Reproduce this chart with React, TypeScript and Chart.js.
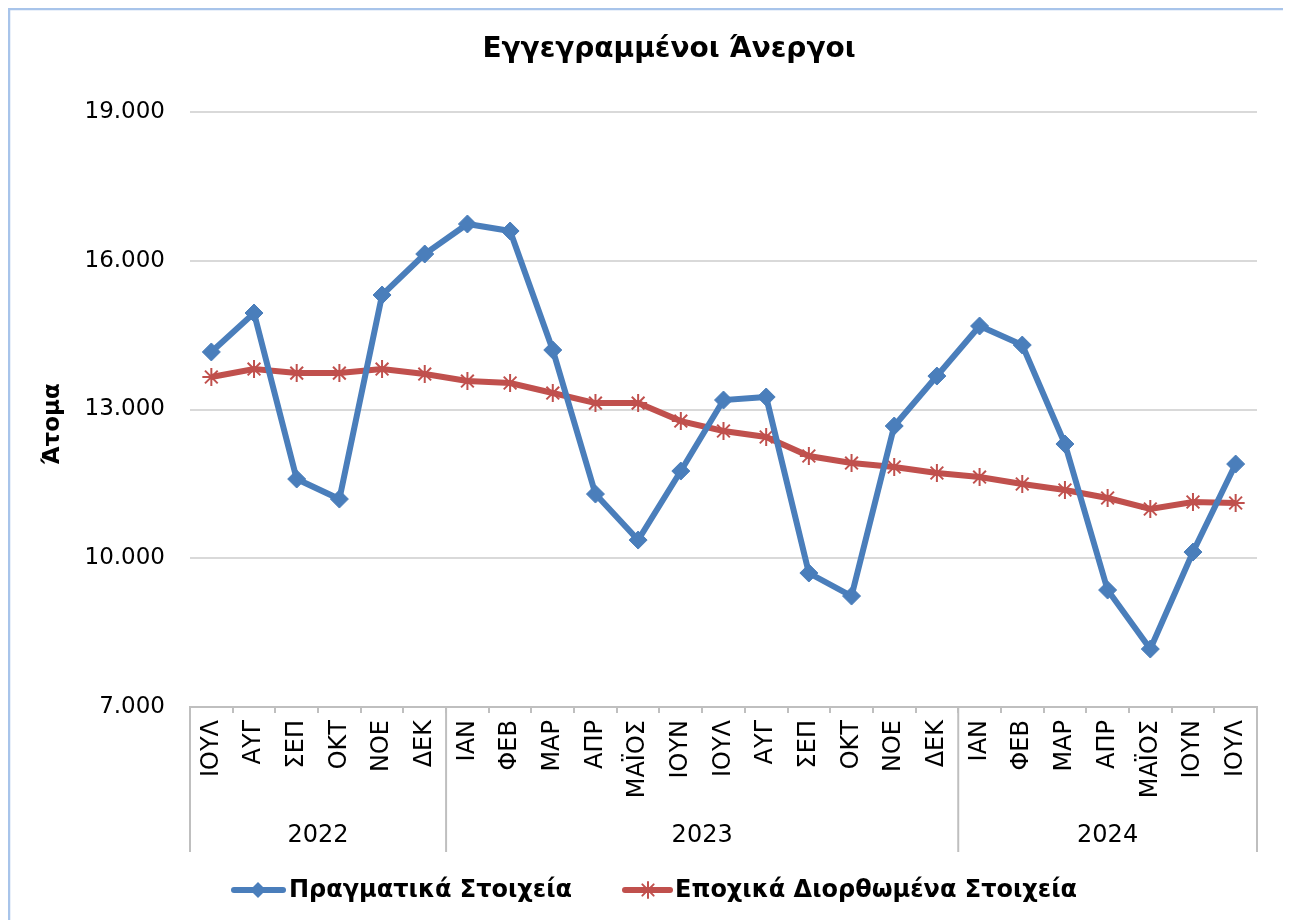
import React, { useEffect, useRef } from 'react';
import { Chart, registerables } from 'chart.js';

Chart.register(...registerables);

const months = ['ΙΟΥΛ', 'ΑΥΓ', 'ΣΕΠ', 'ΟΚΤ', 'ΝΟΕ', 'ΔΕΚ', 'ΙΑΝ', 'ΦΕΒ', 'ΜΑΡ', 'ΑΠΡ', 'ΜΑΪΟΣ', 'ΙΟΥΝ', 'ΙΟΥΛ', 'ΑΥΓ', 'ΣΕΠ', 'ΟΚΤ', 'ΝΟΕ', 'ΔΕΚ', 'ΙΑΝ', 'ΦΕΒ', 'ΜΑΡ', 'ΑΠΡ', 'ΜΑΪΟΣ', 'ΙΟΥΝ', 'ΙΟΥΛ'];
const years = ['2022', '2023', '2024'];
const yearCounts = [6, 12, 7];

const actualValues = [14160, 14946, 11598, 11194, 15309, 16136, 16741, 16600, 14200, 11295, 10367, 11759, 13191, 13252, 9702, 9238, 12667, 13675, 14684, 14300, 12304, 9359, 8169, 10125, 11900];
const adjustedValues = [13655, 13816, 13735, 13735, 13816, 13715, 13574, 13534, 13332, 13130, 13130, 12767, 12566, 12445, 12062, 11920, 11840, 11719, 11638, 11497, 11376, 11215, 10993, 11134, 11114];

const seriesLabels = ['Πραγματικά Στοιχεία', 'Εποχικά Διορθωμένα Στοιχεία'];
const chartTitle = 'Εγγεγραμμένοι Άνεργοι';
const yAxisTitle = 'Άτομα';
const yMin = 7000;
const yMax = 19000;
const yStep = 3000;

const FONT = '"DejaVu Sans", Verdana, sans-serif';
const BLUE = '#4a7ebb';
const RED = '#c0504d';

function fmt(v: number) {
  return String(v).replace(/\B(?=(\d{3})+(?!\d))/g, '.');
}

function drawDiamond(ctx: CanvasRenderingContext2D, x: number, y: number, r: number, color: string) {
  ctx.save();
  ctx.fillStyle = color;
  ctx.beginPath();
  ctx.moveTo(x, y - r);
  ctx.lineTo(x + r, y);
  ctx.lineTo(x, y + r);
  ctx.lineTo(x - r, y);
  ctx.closePath();
  ctx.fill();
  ctx.restore();
}

function drawStar(ctx: CanvasRenderingContext2D, x: number, y: number, r: number, color: string) {
  ctx.save();
  ctx.strokeStyle = color;
  ctx.lineWidth = 2;
  ctx.beginPath();
  for (let i = 0; i < 4; i++) {
    const a = (i * Math.PI) / 4;
    ctx.moveTo(x - Math.cos(a) * r, y - Math.sin(a) * r);
    ctx.lineTo(x + Math.cos(a) * r, y + Math.sin(a) * r);
  }
  ctx.stroke();
  ctx.restore();
}

const decor = {
  id: 'decor',
  beforeDraw(chart: any) {
    const ctx = chart.ctx as CanvasRenderingContext2D;
    ctx.save();
    ctx.fillStyle = '#ffffff';
    ctx.fillRect(0, 0, chart.width, chart.height);
    ctx.strokeStyle = '#a8c4ea';
    ctx.lineWidth = 2.5;
    ctx.beginPath();
    ctx.moveTo(1, chart.height);
    ctx.lineTo(1, 1);
    ctx.lineTo(chart.width, 1);
    ctx.stroke();
    ctx.restore();
  },
  afterDraw(chart: any) {
    const ctx = chart.ctx as CanvasRenderingContext2D;
    const area = chart.chartArea;
    const xs = chart.scales.x;
    ctx.save();

    // title
    ctx.fillStyle = '#000';
    ctx.font = `bold 28px ${FONT}`;
    ctx.textAlign = 'center';
    ctx.textBaseline = 'middle';
    ctx.fillText(chartTitle, 661, 42);

    // y axis title
    ctx.save();
    ctx.translate(45, 416);
    ctx.rotate(-Math.PI / 2);
    ctx.font = `bold 23px ${FONT}`;
    ctx.fillText(yAxisTitle, 0, 0);
    ctx.restore();

    // group dividers and years
    const n = months.length;
    const boundary = (i: number) => {
      if (i <= 0) return area.left;
      if (i >= n) return area.right;
      return (xs.getPixelForValue(i - 1) + xs.getPixelForValue(i)) / 2;
    };
    ctx.strokeStyle = '#bfbfbf';
    ctx.lineWidth = 2;
    let start = 0;
    const bottomY = 844;
    const drawLine = (x: number) => {
      ctx.beginPath();
      ctx.moveTo(x, area.bottom);
      ctx.lineTo(x, bottomY);
      ctx.stroke();
    };
    drawLine(boundary(0));
    ctx.font = `24px ${FONT}`;
    ctx.fillStyle = '#000';
    years.forEach((yr, gi) => {
      const end = start + yearCounts[gi];
      const x0 = boundary(start);
      const x1 = boundary(end);
      drawLine(x1);
      ctx.fillText(yr, (x0 + x1) / 2, 828);
      start = end;
    });

    // legend
    const ly = 882;
    ctx.lineCap = 'round';
    ctx.strokeStyle = BLUE;
    ctx.lineWidth = 6;
    ctx.beginPath();
    ctx.moveTo(226, ly);
    ctx.lineTo(275, ly);
    ctx.stroke();
    drawDiamond(ctx, 250, ly, 8, BLUE);
    ctx.strokeStyle = RED;
    ctx.beginPath();
    ctx.moveTo(617, ly);
    ctx.lineTo(662, ly);
    ctx.stroke();
    drawStar(ctx, 640, ly, 8, RED);
    ctx.fillStyle = '#000';
    ctx.font = `bold 24px ${FONT}`;
    ctx.textAlign = 'left';
    ctx.fillText(seriesLabels[0], 281, ly + 1);
    ctx.fillText(seriesLabels[1], 667, ly + 1);

    ctx.restore();
  },
};

export default function App() {
  const ref = useRef<HTMLCanvasElement | null>(null);
  useEffect(() => {
    if (!ref.current) return;
    const chart = new Chart(ref.current, {
      type: 'line',
      data: {
        labels: months,
        datasets: [
          {
            label: seriesLabels[0],
            data: actualValues,
            borderColor: BLUE,
            backgroundColor: BLUE,
            borderWidth: 6,
            pointStyle: 'rectRot',
            pointRadius: 9,
            pointBorderWidth: 1,
            pointBackgroundColor: BLUE,
            pointBorderColor: BLUE,
            tension: 0,
          },
          {
            label: seriesLabels[1],
            data: adjustedValues,
            borderColor: RED,
            backgroundColor: RED,
            borderWidth: 6,
            pointStyle: 'star',
            pointRadius: 9,
            pointBorderWidth: 2,
            pointBorderColor: RED,
            tension: 0,
          },
        ],
      },
      options: {
        responsive: false,
        animation: false,
        layout: { padding: { top: 104, left: 0, right: 34, bottom: 63 } },
        plugins: {
          legend: { display: false },
          title: { display: false },
          tooltip: { enabled: false },
        },
        scales: {
          x: {
            offset: true,
            grid: {
              display: true,
              offset: true,
              drawOnChartArea: false,
              drawTicks: true,
              tickLength: 6,
              color: '#bfbfbf',
              lineWidth: 2,
            },
            border: { display: true, color: '#bfbfbf', width: 2 },
            ticks: {
              autoSkip: false,
              minRotation: 90,
              maxRotation: 90,
              padding: 7,
              color: '#000',
              font: { family: FONT, size: 24 },
            },
            afterFit(scale: any) {
              scale.height = 150;
            },
          },
          y: {
            min: yMin,
            max: yMax,
            ticks: {
              stepSize: yStep,
              padding: 25,
              color: '#000',
              font: { family: FONT, size: 23 },
              callback: (v: any) => fmt(Number(v)),
            },
            grid: {
              color: '#d9d9d9',
              lineWidth: 2,
              drawTicks: false,
            },
            border: { display: false },
            afterFit(scale: any) {
              scale.width = 182;
            },
          },
        },
      },
      plugins: [decor],
    });
    return () => chart.destroy();
  }, []);
  return (
    <div style={{ width: 1283, height: 912 }}>
      <canvas ref={ref} width={1283} height={912} style={{ display: 'block' }} />
    </div>
  );
}
